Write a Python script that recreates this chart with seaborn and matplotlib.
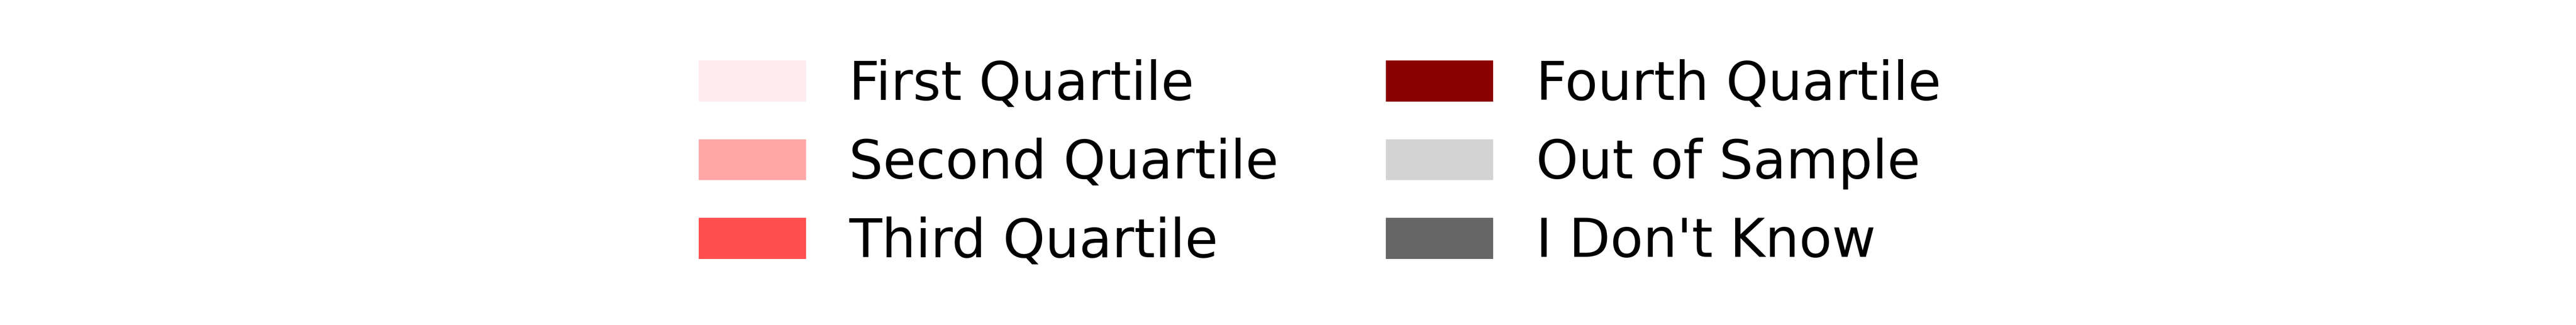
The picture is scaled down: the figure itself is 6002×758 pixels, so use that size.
import matplotlib
matplotlib.use("Agg")
import matplotlib.pyplot as plt
import seaborn as sns
from matplotlib.patches import Patch

sns.set_style("white")
plt.rcParams["font.family"] = ["DejaVu Sans"]
plt.rcParams["text.color"] = "black"

# Legend categories and their fill colours
categories = [
    "First Quartile",
    "Second Quartile",
    "Third Quartile",
    "Fourth Quartile",
    "Out of Sample",
    "I Don't Know",
]
colors = ["#ffebee", "#ffa6a6", "#ff4f4f", "#8b0000", "#d3d3d3", "#666666"]

fig = plt.figure(figsize=(6002 / 300, 758 / 300), dpi=300)

handles = [Patch(facecolor=c, edgecolor="none", label=lab) for lab, c in zip(categories, colors)]
fig.legend(
    handles=handles,
    ncol=2,
    loc="center left",
    bbox_to_anchor=(0.2525, 0.497),
    frameon=False,
    fontsize=30,
    handleheight=0.8,
    labelcolor="black",
)

fig.savefig("out.png", dpi=300)
